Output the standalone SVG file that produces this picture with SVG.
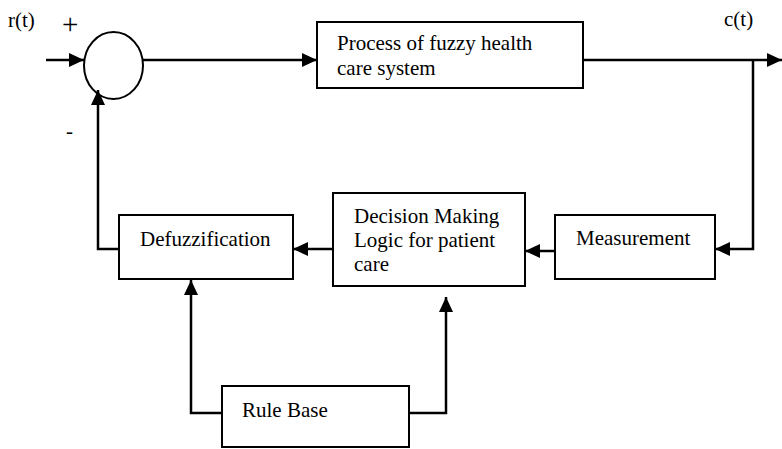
<svg xmlns="http://www.w3.org/2000/svg" width="782" height="449" viewBox="0 0 782 449">
<style>
.box{fill:#fff;stroke:#000;stroke-width:2}
text{font-family:'Liberation Serif','Times New Roman',serif;font-size:21px;fill:#000}
.c{fill:none;stroke:#000;stroke-width:2.5}
</style>
<defs>
<marker id="a" markerUnits="userSpaceOnUse" markerWidth="16" markerHeight="14" refX="15" refY="7" orient="auto">
<path d="M0,0 L15,7 L0,14 Z" fill="#000"/>
</marker>
</defs>
<rect width="782" height="449" fill="#fff"/>
<g id="labels">
<text x="8" y="27">r(t)</text>
<text x="62" y="34" style="font-size:29px">+</text>
<text x="66" y="138">-</text>
<text x="724" y="26">c(t)</text>
</g>
<g id="sum"><ellipse cx="113.5" cy="65.5" rx="29.5" ry="33.5" fill="#fff" stroke="#000" stroke-width="2"/></g>
<g id="process"><rect class="box" x="317" y="22" width="266" height="66"/>
<text x="337" y="50">Process of fuzzy health</text>
<text x="337" y="75">care system</text></g>
<g id="defuzz"><rect class="box" x="119" y="215" width="174" height="64"/>
<text x="140" y="246">Defuzzification</text></g>
<g id="decision"><rect class="box" x="333" y="193" width="192" height="93"/>
<text x="354" y="223">Decision Making</text>
<text x="354" y="247">Logic for patient</text>
<text x="354" y="271">care</text></g>
<g id="measurement"><rect class="box" x="555" y="215" width="160" height="64"/>
<text x="576" y="245">Measurement</text></g>
<g id="rulebase"><rect class="box" x="222" y="386" width="187" height="61"/>
<text x="242" y="417">Rule Base</text></g>
<g id="connectors">
<path class="c" d="M46,60 L84,60" marker-end="url(#a)"/>
<path class="c" d="M143,60 L317,60" marker-end="url(#a)"/>
<path class="c" d="M583,60 L782,60" marker-end="url(#a)"/>
<path class="c" d="M753,60 L753,249 L715,249" marker-end="url(#a)"/>
<path class="c" d="M555,251 L525,251" marker-end="url(#a)"/>
<path class="c" d="M333,249 L293,249" marker-end="url(#a)"/>
<path class="c" d="M119,249 L98,249 L98,90" marker-end="url(#a)"/>
<path class="c" d="M222,413 L191,413 L191,280" marker-end="url(#a)"/>
<path class="c" d="M409,413 L446,413 L446,297" marker-end="url(#a)"/>
</g>
</svg>
